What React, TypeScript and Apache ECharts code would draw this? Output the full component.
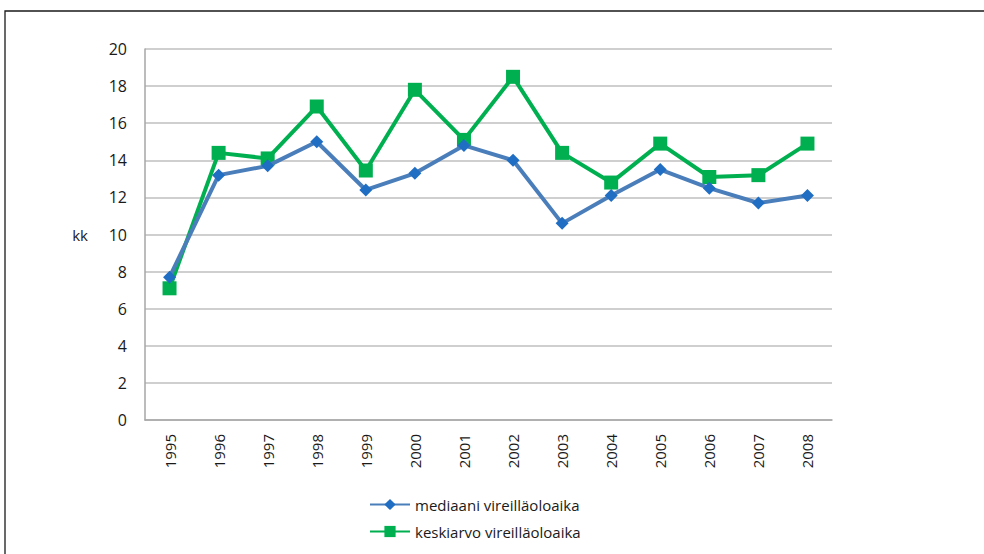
import React, { useEffect, useRef } from "react";
import * as echarts from "echarts";

const categories = ["1995","1996","1997","1998","1999","2000","2001","2002","2003","2004","2005","2006","2007","2008"];
const medianValues = [7.7, 13.2, 13.7, 15.0, 12.4, 13.3, 14.8, 14.0, 10.6, 12.1, 13.5, 12.5, 11.7, 12.1];
const meanValues = [7.1, 14.4, 14.1, 16.9, 13.45, 17.8, 15.1, 18.5, 14.4, 12.8, 14.9, 13.1, 13.2, 14.9];
const seriesNames = ["mediaani vireilläoloaika", "keskiarvo vireilläoloaika"];
const yAxisName = "kk";

const FONT = "'Open Sans', 'Noto Sans', sans-serif";

export default function App() {
  const ref = useRef<HTMLDivElement>(null);
  useEffect(() => {
    if (!ref.current) return;
    const chart = echarts.init(ref.current, undefined, { renderer: "svg" });
    chart.setOption({
      animation: false,
      backgroundColor: "#ffffff",
      textStyle: { fontFamily: FONT },
      graphic: [
        {
          type: "rect",
          shape: { x: 5, y: 11, width: 1000, height: 600 },
          style: { fill: "none", stroke: "#1a1a1a", lineWidth: 1.3 },
          silent: true,
          z: -10,
        },
      ],
      grid: { left: 145, right: 152, top: 49, bottom: 134 },
      legend: {
        orient: "vertical",
        left: 364,
        top: 492,
        itemWidth: 40,
        itemHeight: 14,
        itemGap: 12,
        textStyle: { fontSize: 15, color: "#1a1a1a", fontFamily: FONT },
        data: seriesNames,
      },
      xAxis: {
        type: "category",
        data: categories,
        boundaryGap: true,
        axisLine: { lineStyle: { color: "#a6a6a6", width: 1.5 } },
        axisTick: { show: false },
        axisLabel: { rotate: 90, margin: 14, fontSize: 15, color: "#1a1a1a", fontFamily: FONT },
      },
      yAxis: {
        type: "value",
        min: 0,
        max: 20,
        interval: 2,
        name: yAxisName,
        nameLocation: "middle",
        nameRotate: 0,
        nameGap: 57,
        nameTextStyle: { fontSize: 15, color: "#1a1a1a", fontFamily: FONT },
        axisLine: { show: true, lineStyle: { color: "#a6a6a6", width: 1.5 } },
        axisTick: { show: false },
        splitLine: { lineStyle: { color: "#bfbfbf", width: 1.5 } },
        axisLabel: { margin: 18, fontSize: 16, color: "#1a1a1a", fontFamily: FONT },
      },
      series: [
        {
          name: seriesNames[0],
          type: "line",
          data: medianValues,
          symbol: "diamond",
          symbolSize: 13,
          itemStyle: { color: "#1f6ec4" },
          lineStyle: { color: "#4a7ebb", width: 4 },
          z: 3,
        },
        {
          name: seriesNames[1],
          type: "line",
          data: meanValues,
          symbol: "rect",
          symbolSize: 14,
          itemStyle: { color: "#00b050" },
          lineStyle: { color: "#00b050", width: 4 },
          z: 2,
        },
      ],
    });
    return () => chart.dispose();
  }, []);
  return (
    <div
      ref={ref}
      style={{ position: "fixed", left: 0, top: 0, width: 984, height: 554 }}
    />
  );
}
